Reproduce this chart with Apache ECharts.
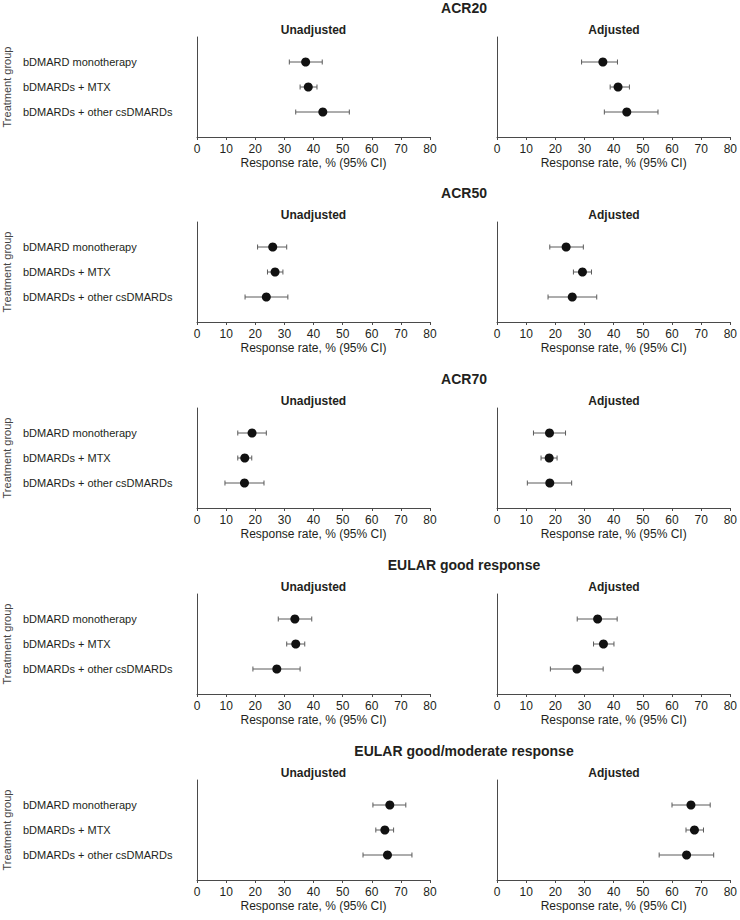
<!DOCTYPE html>
<html>
<head>
<meta charset="utf-8">
<script src="https://cdn.jsdelivr.net/npm/echarts@6/dist/echarts.min.js"></script>
<style>
html,body{margin:0;padding:0;background:#fff;}
#chart{width:740px;height:920px;}
</style>
</head>
<body>
<div id="chart"></div>
<script>
// ---- Data ----
const categories = ['bDMARD monotherapy', 'bDMARDs + MTX', 'bDMARDs + other csDMARDs'];
const outcomes = ['ACR20', 'ACR50', 'ACR70', 'EULAR good response', 'EULAR good/moderate response'];
const panels = ['Unadjusted', 'Adjusted'];
const xMin = 0, xMax = 80, xInterval = 10;
const xAxisName = 'Response rate, % (95% CI)';
const yAxisName = 'Treatment group';

// each row: [estimate, lower 95% CI, upper 95% CI] per category
const acr20Unadjusted = [[37.3, 31.7, 43.0], [38.2, 35.4, 41.2], [43.2, 33.9, 52.3]];
const acr20Adjusted   = [[36.3, 29.0, 41.3], [41.5, 38.8, 45.4], [44.5, 36.8, 55.2]];
const acr50Unadjusted = [[26.0, 20.8, 30.8], [26.8, 24.2, 29.5], [23.8, 16.5, 31.2]];
const acr50Adjusted   = [[23.7, 18.1, 29.6], [29.3, 26.2, 32.4], [25.8, 17.5, 34.2]];
const acr70Unadjusted = [[18.9, 14.0, 23.8], [16.4, 14.0, 18.8], [16.3, 9.6, 23.0]];
const acr70Adjusted   = [[18.0, 12.5, 23.5], [17.9, 15.1, 20.6], [18.1, 10.4, 25.6]];
const eularGoodUnadjusted = [[33.6, 27.9, 39.4], [33.9, 30.8, 37.0], [27.4, 19.2, 35.4]];
const eularGoodAdjusted   = [[34.5, 27.5, 41.2], [36.5, 33.1, 40.1], [27.4, 18.3, 36.4]];
const eularModUnadjusted  = [[66.2, 60.4, 71.7], [64.5, 61.4, 67.5], [65.4, 57.0, 73.8]];
const eularModAdjusted    = [[66.5, 60.0, 73.1], [67.7, 64.8, 70.8], [65.0, 55.6, 74.3]];

const panelData = [
  [acr20Unadjusted, acr20Adjusted],
  [acr50Unadjusted, acr50Adjusted],
  [acr70Unadjusted, acr70Adjusted],
  [eularGoodUnadjusted, eularGoodAdjusted],
  [eularModUnadjusted, eularModAdjusted]
];

// ---- Layout / style ----
const FONT = '"Liberation Sans", Arial, Helvetica, sans-serif';
const TEXT = '#231f20';
const AXIS = '#4a4a4a';
const BAR = '#5a5a5a';
const rowTops = [37, 222, 408, 594, 780];
const gridH = 100;
const colLeft = [197, 497];
const colWidth = [233, 234];
const yCats = [''].concat(categories, ['']);

const grids = [], xAxes = [], yAxes = [], series = [], graphics = [];

outcomes.forEach((outcome, r) => {
  const top = rowTops[r];
  graphics.push({
    type: 'text',
    x: (colLeft[0] + colLeft[1] + colWidth[1]) / 2, y: top - 29,
    style: { text: outcome, fill: TEXT, font: 'bold 14px ' + FONT, textAlign: 'center', textVerticalAlign: 'middle' }
  });
  panels.forEach((panel, c) => {
    const gi = grids.length;
    grids.push({ left: colLeft[c], top: top, width: colWidth[c], height: gridH, containLabel: false });
    graphics.push({
      type: 'text',
      x: colLeft[c] + colWidth[c] / 2, y: top - 7,
      style: { text: panel, fill: TEXT, font: 'bold 12px ' + FONT, textAlign: 'center', textVerticalAlign: 'middle' }
    });
    xAxes.push({
      type: 'value', gridIndex: gi, min: xMin, max: xMax, interval: xInterval,
      name: xAxisName, nameLocation: 'middle', nameGap: 20,
      nameTextStyle: { color: TEXT, fontSize: 12, fontFamily: FONT },
      axisLine: { show: true, lineStyle: { color: AXIS, width: 1 } },
      axisTick: { show: true, length: 3, lineStyle: { color: AXIS } },
      axisLabel: { color: TEXT, fontSize: 12, fontFamily: FONT, margin: 6 },
      splitLine: { show: false }
    });
    yAxes.push({
      type: 'category', gridIndex: gi, data: yCats, inverse: true, boundaryGap: false,
      name: c === 0 ? yAxisName : '', nameLocation: 'middle', nameRotate: 90, nameGap: 185,
      nameTextStyle: { color: '#444', fontSize: 11, fontFamily: FONT },
      axisLine: { show: true, onZero: false, lineStyle: { color: AXIS, width: 1 } },
      axisTick: { show: false },
      axisLabel: {
        show: c === 0, interval: 0, align: 'left', margin: 174,
        color: TEXT, fontSize: 11, fontFamily: FONT
      },
      splitLine: { show: false }
    });
    const d = panelData[r][c];
    series.push({
      type: 'custom', xAxisIndex: gi, yAxisIndex: gi,
      encode: { x: [0, 1], y: 2 },
      data: d.map((v, i) => [v[1], v[2], i + 1]),
      renderItem: function (params, api) {
        const yv = api.value(2);
        const p1 = api.coord([api.value(0), yv]);
        const p2 = api.coord([api.value(1), yv]);
        const h = 2.5;
        const st = { stroke: BAR, lineWidth: 1 };
        return {
          type: 'group',
          children: [
            { type: 'line', shape: { x1: p1[0], y1: p1[1], x2: p2[0], y2: p2[1] }, style: st },
            { type: 'line', shape: { x1: p1[0], y1: p1[1] - h, x2: p1[0], y2: p1[1] + h }, style: st },
            { type: 'line', shape: { x1: p2[0], y1: p2[1] - h, x2: p2[0], y2: p2[1] + h }, style: st }
          ]
        };
      },
      silent: true, z: 2
    });
    series.push({
      type: 'scatter', xAxisIndex: gi, yAxisIndex: gi,
      data: d.map((v, i) => [v[0], i + 1]),
      symbol: 'circle', symbolSize: 9,
      itemStyle: { color: '#111', opacity: 1 },
      silent: true, z: 3
    });
  });
});

const chart = echarts.init(document.getElementById('chart'), null, { renderer: 'svg' });
chart.setOption({
  animation: false,
  backgroundColor: '#fff',
  textStyle: { fontFamily: FONT },
  grid: grids,
  xAxis: xAxes,
  yAxis: yAxes,
  series: series,
  graphic: graphics
});
</script>
</body>
</html>
